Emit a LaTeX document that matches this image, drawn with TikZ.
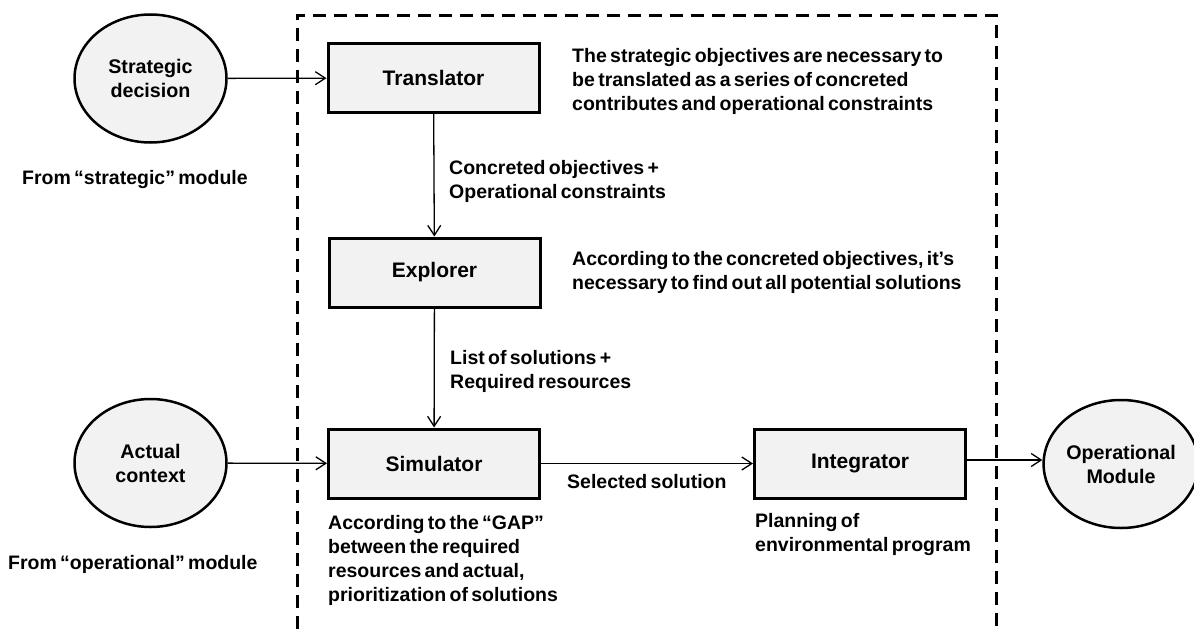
\documentclass[tikz,border=0pt]{standalone}
\usepackage{fontspec}
\setmainfont{Liberation Sans}
\usetikzlibrary{shapes.geometric, arrows.meta, positioning}
\newcommand{\notefont}{\fontsize{19.5}{24}\selectfont\bfseries\spaceskip 0.17em plus 0.05em\relax}

\begin{document}
\begin{tikzpicture}[x=1pt, y=-1pt,
  font=\fontsize{19.5}{24}\selectfont\bfseries,
  module/.style={ellipse, draw, line width=2.5pt, fill=black!5, inner sep=0pt,
    minimum width=152pt, minimum height=128pt, align=center,
    font=\fontsize{19.7}{24}\selectfont\bfseries},
  block/.style={rectangle, draw, line width=3pt, fill=black!5,
    minimum width=211pt, minimum height=69pt,
    font=\fontsize{21}{24}\selectfont\bfseries},
  note/.style={anchor=north west, inner sep=0pt, align=left, font=\notefont},
  flow/.style={line width=1.3pt, -{Straight Barb[length=10pt, width=13pt]}}]

\useasboundingbox (0,0) rectangle (1194,629);

% ========== dashed frame of the module ==========
\draw[line width=3pt, dash pattern=on 13pt off 8pt] (297,650) -- (297,15) -- (996,15) -- (996,650);

% ========== outside modules ==========
\node[module] (strat) at (150.5,78.5) {Strategic\\decision};
\node[module] (actual) at (150.5,463) {Actual\\context};
\node[module, minimum width=146pt] (opmod) at (1121,464) {Operational\\Module};

\node[note] (fromstrat) at (22,170) {From “strategic” module};
\node[note] (fromop) at (8,555) {From “operational” module};

% ========== blocks ==========
\node[block] (trans) at (433.5,78) {Translator};
\node[block] (explor) at (434.5,272.5) {Explorer};
\node[block] (simul) at (434,463.5) {Simulator};
\node[block] (integ) at (860,463.5) {Integrator};

% ========== connectors ==========
\draw[flow] (strat) -- (trans);
\draw[flow] (trans) -- (explor);
\draw[flow] (explor) -- (simul);
\draw[flow] (actual) -- (simul);
\draw[flow] (simul) -- (integ);
\draw[flow] (integ.east |- 0,460) -- (opmod.west |- 0,460);

% ========== labels ==========
\node[note] (lbltrans) at (572,48) {The strategic objectives are necessary to\\be translated as a series of concreted\\contributes and operational constraints};
\node[note] (lblconc) at (449,160) {Concreted objectives +\\Operational constraints};
\node[note] (lblexpl) at (572,251) {According to the concreted objectives, it’s\\necessary to find out all potential solutions};
\node[note] (lbllist) at (450,350) {List of solutions +\\Required resources};
\node[note] (lblsel) at (567,474) {Selected solution};
\node[note] (lblsim) at (328,515) {According to the “GAP”\\between the required\\resources and actual,\\prioritization of solutions};
\node[note] (lblint) at (755,513) {Planning of\\environmental program};

\end{tikzpicture}
\end{document}
